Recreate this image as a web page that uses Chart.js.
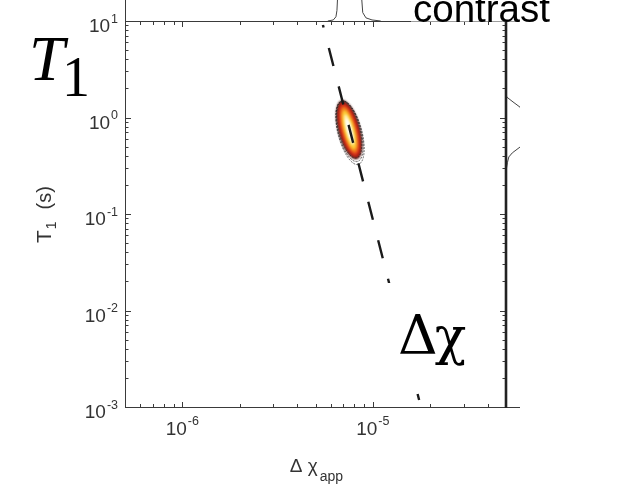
<!DOCTYPE html>
<html>
<head>
<meta charset="utf-8">
<script src="https://cdn.jsdelivr.net/npm/chart.js@4.4.1/dist/chart.umd.min.js"></script>
<style>
  html, body { margin: 0; padding: 0; background: #fff; }
  canvas { display: block; }
</style>
</head>
<body>
<canvas id="chart" width="641" height="491"></canvas>
<script>
// T1 against apparent susceptibility, log-log, MATLAB-style frame
const xMajorTicks = [1e-6, 1e-5];
const xTickExponents = ['-6', '-5'];
const xMinorTicks = [6e-7, 7e-7, 8e-7, 9e-7,
  2e-6, 3e-6, 4e-6, 5e-6, 6e-6, 7e-6, 8e-6, 9e-6,
  2e-5, 3e-5, 4e-5];
const yMajorTicks = [1e-3, 1e-2, 1e-1, 1, 10];
const yTickExponents = ['-3', '-2', '-1', '0', '1'];
const yMinorTicks = [2e-3, 3e-3, 4e-3, 5e-3, 6e-3, 7e-3, 8e-3, 9e-3,
  2e-2, 3e-2, 4e-2, 5e-2, 6e-2, 7e-2, 8e-2, 9e-2,
  0.2, 0.3, 0.4, 0.5, 0.6, 0.7, 0.8, 0.9,
  2, 3, 4, 5, 6, 7, 8, 9];

// dashed trend line
const fitX = [5.47e-6, 1.75e-5];
const fitY = [9.09, 1.18e-3];

// the density peak: ends of its long axis
const peakEndsX = [6.85e-6, 8.25e-6];
const peakEndsY = [1.5, 0.37];

// marginal densities (relative units)
const topMarginX = [5.8e-6, 6.2e-6, 6.4e-6, 6.48e-6, 6.52e-6, 6.6e-6, 7.5e-6, 8.6e-6, 8.75e-6, 8.85e-6, 9.2e-6, 9.9e-6, 1.1e-5];
const topMarginDensity = [0, 0.05, 0.2, 0.5, 1, 1.6, 3, 1.6, 1, 0.4, 0.15, 0.05, 0];
const rightMarginY = [2.2, 1.75, 1.63, 1.45, 1.28, 0.75, 0.494, 0.43, 0.39, 0.34, 0.3, 0.26];
const rightMarginDensity = [0, 0.02, 0.05, 0.5, 1, 2.5, 1, 0.45, 0.2, 0.1, 0.04, 0];

const SANS = '"Liberation Sans", Arial, Helvetica, sans-serif';
const SERIF = '"Liberation Serif", "Times New Roman", serif';
const GREEK_SERIF = '"DejaVu Serif", serif';
const AXIS_COLOR = '#3a3a3a';
const LABEL_COLOR = '#333';
const MARGIN_W = 14;     // width of the marginal strips
const PEAK_HALF_W = 11;  // half width of the peak, px

function drawPeak(ctx, x, y) {
  const x0 = x.getPixelForValue(peakEndsX[0]), y0 = y.getPixelForValue(peakEndsY[0]);
  const x1 = x.getPixelForValue(peakEndsX[1]), y1 = y.getPixelForValue(peakEndsY[1]);
  const len = Math.hypot(x1 - x0, y1 - y0) / 2;
  ctx.save();
  ctx.translate((x0 + x1) / 2, (y0 + y1) / 2);
  ctx.rotate(Math.atan2(y1 - y0, x1 - x0));
  ctx.filter = 'blur(1px)';
  const layers = [
    [1.0, 1.0, '#5e2620'],
    [0.95, 0.88, '#a81c14'],
    [0.88, 0.76, '#d8361a'],
    [0.78, 0.6, '#f2801e'],
    [0.66, 0.46, '#fbcc38'],
    [0.52, 0.3, '#fff2b8'],
    [0.38, 0.17, '#ffffff']
  ];
  layers.forEach(([fa, fb, c]) => {
    ctx.beginPath();
    ctx.ellipse(0, 0, len * fa, PEAK_HALF_W * fb, 0, 0, Math.PI * 2);
    ctx.fillStyle = c;
    ctx.fill();
  });
  ctx.filter = 'none';
  ctx.strokeStyle = 'rgba(30,30,30,0.75)';
  ctx.lineWidth = 0.8;
  ctx.setLineDash([2, 1.2]);
  [[0, 0.96], [1.5, 1.03], [3, 1.08]].forEach(([dx, f]) => {
    ctx.beginPath();
    ctx.ellipse(dx, 0, len * f, PEAK_HALF_W * f, 0, 0, Math.PI * 2);
    ctx.stroke();
  });
  ctx.restore();
}

function drawMargins(ctx, a, x, y) {
  ctx.save();
  ctx.strokeStyle = '#444';
  ctx.lineWidth = 1;
  // top strip
  ctx.save();
  ctx.beginPath();
  ctx.rect(a.left, 0, a.right + MARGIN_W - a.left, a.top);
  ctx.clip();
  ctx.beginPath();
  topMarginX.forEach((v, i) => {
    const px = x.getPixelForValue(v), py = a.top - topMarginDensity[i] * a.top;
    i ? ctx.lineTo(px, py) : ctx.moveTo(px, py);
  });
  ctx.stroke();
  ctx.restore();
  // right strip
  ctx.save();
  ctx.beginPath();
  ctx.rect(a.right, a.top, MARGIN_W, a.bottom - a.top);
  ctx.clip();
  ctx.beginPath();
  rightMarginY.forEach((v, i) => {
    const py = y.getPixelForValue(v), px = a.right + rightMarginDensity[i] * MARGIN_W;
    i ? ctx.lineTo(px, py) : ctx.moveTo(px, py);
  });
  ctx.stroke();
  ctx.restore();
  ctx.restore();
}

function drawFrame(ctx, a, x, y) {
  ctx.save();
  ctx.strokeStyle = AXIS_COLOR;
  ctx.lineWidth = 1;
  ctx.beginPath();
  ctx.moveTo(a.left + 0.5, 0); ctx.lineTo(a.left + 0.5, a.bottom);
  ctx.moveTo(a.left, a.bottom + 0.5); ctx.lineTo(a.right + MARGIN_W, a.bottom + 0.5);
  ctx.moveTo(a.left, a.top + 0.5); ctx.lineTo(a.right + MARGIN_W, a.top + 0.5);
  // inward ticks
  const xt = (vals, len) => vals.forEach(v => {
    const px = Math.round(x.getPixelForValue(v)) + 0.5;
    ctx.moveTo(px, a.bottom); ctx.lineTo(px, a.bottom - len);
    ctx.moveTo(px, a.top + 1); ctx.lineTo(px, a.top + 1 + len);
  });
  const yt = (vals, len) => vals.forEach(v => {
    const py = Math.round(y.getPixelForValue(v)) + 0.5;
    ctx.moveTo(a.left, py); ctx.lineTo(a.left + len, py);
    ctx.moveTo(a.right, py); ctx.lineTo(a.right - len, py);
  });
  xt(xMajorTicks, 5); xt(xMinorTicks, 3);
  yt(yMajorTicks, 6); yt(yMinorTicks, 3.5);
  ctx.stroke();
  ctx.strokeStyle = '#222';
  ctx.lineWidth = 2.6;
  ctx.beginPath();
  ctx.moveTo(a.right, a.top); ctx.lineTo(a.right, a.bottom + 1);
  ctx.stroke();
  ctx.restore();
}

function powerLabel(ctx, exp, px, baseY, align, supRise) {
  ctx.font = '19px ' + SANS;
  const wb = ctx.measureText('10').width;
  ctx.font = '12.5px ' + SANS;
  const ws = ctx.measureText(exp).width;
  const total = wb + 1 + ws;
  const left = align === 'right' ? px - total : px - total / 2;
  ctx.textAlign = 'left';
  ctx.font = '19px ' + SANS;
  ctx.fillText('10', left, baseY);
  ctx.font = '12.5px ' + SANS;
  ctx.fillText(exp, left + wb + 1, baseY - supRise);
}

function drawLabels(ctx, a, x, y) {
  ctx.save();
  ctx.fillStyle = LABEL_COLOR;
  ctx.textBaseline = 'alphabetic';
  yMajorTicks.forEach((v, i) => powerLabel(ctx, yTickExponents[i], a.left - 7, y.getPixelForValue(v) + 11, 'right', 9.5));
  xMajorTicks.forEach((v, i) => powerLabel(ctx, xTickExponents[i], x.getPixelForValue(v), a.bottom + 28, 'center', 10.5));

  // x title: Δ χ_app
  ctx.font = '19px ' + SANS;
  const main = 'Δ χ';
  const wm = ctx.measureText(main).width;
  ctx.font = '14px ' + SANS;
  const wsub = ctx.measureText('app').width;
  const cx = (a.left + a.right) / 2 + 1;
  const left = cx - (wm + 2 + wsub) / 2;
  ctx.font = '19px ' + SANS;
  ctx.fillText(main, left, a.bottom + 65);
  ctx.font = '14px ' + SANS;
  ctx.fillText('app', left + wm + 2, a.bottom + 74);

  // y title: T_1 (s), rotated
  ctx.translate(51, 243);
  ctx.rotate(-Math.PI / 2);
  ctx.font = '21px ' + SANS;
  ctx.fillText('T', 0, 0);
  let u = ctx.measureText('T').width + 1;
  ctx.font = '14px ' + SANS;
  ctx.fillText('1', u, 5);
  u += ctx.measureText('1').width + 12;
  ctx.font = '20px ' + SANS;
  ctx.fillText('(s)', u, 0);
  ctx.restore();
}

function drawOverlays(ctx) {
  ctx.save();
  ctx.fillStyle = '#000';
  ctx.textAlign = 'left';
  ctx.textBaseline = 'alphabetic';
  // T1
  ctx.font = 'italic 64px ' + SERIF;
  ctx.fillText('T', 29, 80);
  ctx.font = '56px ' + SERIF;
  ctx.fillText('1', 62, 96);
  // Δχ on a white box
  ctx.fillStyle = '#fff';
  ctx.fillRect(386, 283, 92, 108);
  ctx.fillStyle = '#000';
  ctx.font = '55px ' + GREEK_SERIF;
  ctx.fillText('Δ', 398, 354);
  const wd = ctx.measureText('Δ').width;
  ctx.font = '52px ' + GREEK_SERIF;
  ctx.fillText('χ', 398 + wd - 3, 354);
  // contrast, squeezed to the width seen in the figure
  ctx.fillStyle = '#fff';
  ctx.fillRect(411, 0, 146, 21.5);
  ctx.fillStyle = '#000';
  ctx.font = '38px "Liberation Sans Narrow", ' + SANS;
  const w = ctx.measureText('contrast').width;
  ctx.translate(413, 22);
  ctx.scale(137 / w, 1);
  ctx.fillText('contrast', 0, 0);
  ctx.restore();
}

const matlabAxes = {
  id: 'matlabAxes',
  beforeDatasetsDraw(chart) {
    const { ctx, chartArea: a, scales: { x, y } } = chart;
    drawMargins(ctx, a, x, y);
    drawPeak(ctx, x, y);
  },
  afterDatasetsDraw(chart) {
    const { ctx, chartArea: a, scales: { x, y } } = chart;
    drawFrame(ctx, a, x, y);
    drawLabels(ctx, a, x, y);
    drawOverlays(ctx);
  }
};

new Chart(document.getElementById('chart'), {
  type: 'scatter',
  data: {
    datasets: [{
      label: 'fit',
      data: fitX.map((v, i) => ({ x: v, y: fitY[i] })),
      showLine: true,
      borderColor: '#1a1a1a',
      borderWidth: 2.4,
      borderDash: [18.6, 21.1],
      borderDashOffset: 16,
      pointRadius: 0
    }]
  },
  options: {
    responsive: false,
    animation: false,
    events: [],
    layout: { padding: { left: 125, top: 21, right: 135, bottom: 84 } },
    plugins: { legend: { display: false }, tooltip: { enabled: false } },
    scales: {
      x: { type: 'logarithmic', min: 5e-7, max: 5e-5, display: false },
      y: { type: 'logarithmic', min: 1e-3, max: 10, display: false }
    }
  },
  plugins: [matlabAxes]
});
</script>
</body>
</html>
